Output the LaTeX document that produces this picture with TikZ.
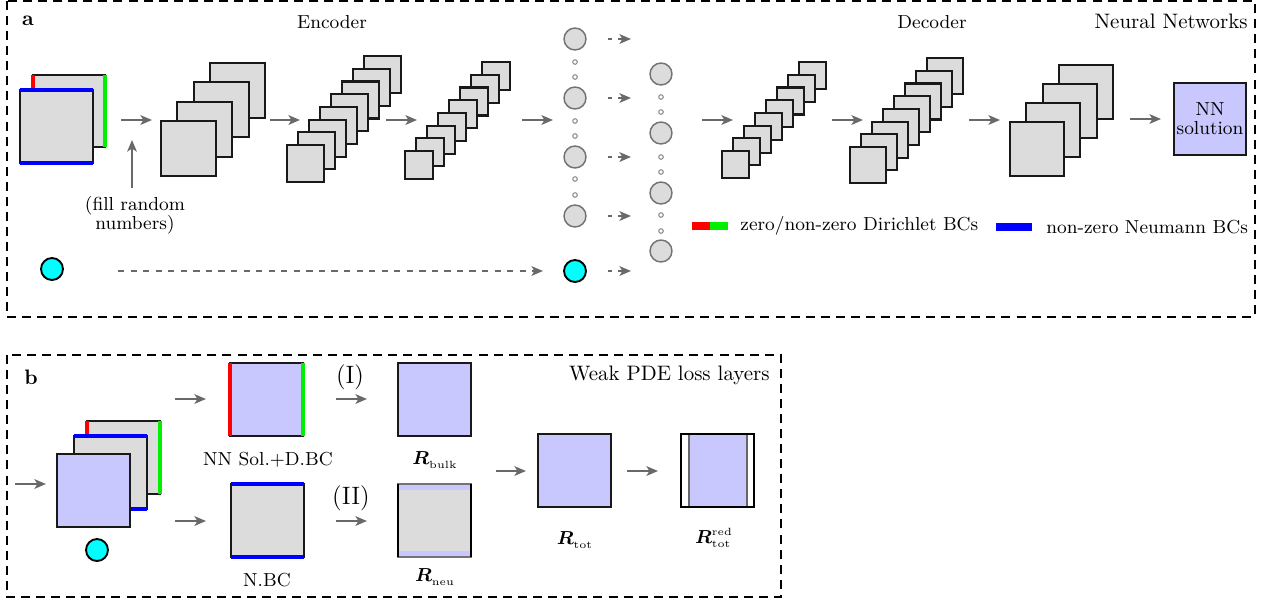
\documentclass[tikz,border=0pt]{standalone}
\usepackage{amsmath,bm}
\usetikzlibrary{arrows.meta,calc}
\definecolor{lav}{RGB}{200,200,255}
\definecolor{lgray}{RGB}{220,220,220}
\definecolor{agray}{RGB}{105,105,105}
\definecolor{bcR}{RGB}{255,0,0}
\definecolor{bcG}{RGB}{0,240,0}
\definecolor{bcB}{RGB}{0,0,255}
\definecolor{biascol}{RGB}{0,255,255}
\newcommand\PXU{0.478pt}
% stack of squares: #1 name, #2 front x, #3 front y, #4 size, #5 index list (back to front), #6 dx, #7 dy (up)
\newcommand\layerstack[7]{%
  \foreach \i in {#5}{%
    \node[sq, minimum size={#4*\PXU}] (#1-\i) at ({#2+\i*#6},{#3-\i*#7}) {};
  }}
% arrow between two named coordinates: #1 style, #2 name, #3 x1, #4 x2, #5 y
\newcommand\harrow[5][arr]{%
  \coordinate (#2-s) at (#3,#5); \coordinate (#2-e) at (#4,#5);
  \draw[#1] (#2-s) -- (#2-e);}
\newcommand\Rlab[2]{$\bm{R}_{\scriptscriptstyle\mathrm{#1}}^{\scriptscriptstyle\mathrm{#2}}$}
\begin{document}
\begin{tikzpicture}[x=0.478pt,y=-0.478pt,
  sq/.style={draw=black!90, fill=lgray, line width=1pt, outer sep=0pt, inner sep=0pt, anchor=north west},
  lsq/.style={sq, fill=lav},
  bcr/.style={draw=bcR, line width=2.1pt},
  bcg/.style={draw=bcG, line width=2.1pt},
  bcb/.style={draw=bcB, line width=2.3pt},
  arr/.style={draw=agray, line width=1pt, -{Stealth[length=5.5pt,width=4.6pt,inset=1.4pt]}},
  sarr/.style={arr, dash pattern=on 2pt off 3pt},
  larr/.style={arr, dash pattern=on 3pt off 3pt},
  neuron/.style={circle, draw=black!55, fill=lgray, line width=0.7pt, minimum size=10.5pt, inner sep=0pt},
  bias/.style={circle, draw=black, fill=biascol, line width=0.9pt, minimum size=10.5pt, inner sep=0pt},
  tdot/.style={circle, draw=black!50, fill=white, line width=0.45pt, minimum size=2.2pt, inner sep=0pt},
  frame/.style={draw=black, line width=0.8pt, dash pattern=on 4.3pt off 2.9pt},
  lbl/.style={inner sep=0pt},
  slbl/.style={inner sep=0pt, font=\small}
]
\useasboundingbox (0,0) rectangle (1261,600);

% ---------------- panel a ----------------
\draw[frame] (7,1) rectangle (1255,317);
\node[lbl, font=\bfseries] (la) at (28,21) {a};
\node[slbl] (enc) at (332,22) {Encoder};
\node[slbl] (dec) at (932,22) {Decoder};
\node[lbl, anchor=east] (nnt) at (1248,21) {Neural Networks};

% input
\node[sq, minimum size={72*\PXU}] (inA-b) at (33,75) {};
\draw[bcr] (inA-b.north west) -- (inA-b.south west);
\draw[bcg] (inA-b.north east) -- (inA-b.south east);
\node[sq, minimum size={73*\PXU}] (inA-f) at (20,90) {};
\draw[bcb] (inA-f.north west) -- (inA-f.north east);
\draw[bcb] (inA-f.south west) -- (inA-f.south east);

\harrow{a1}{121}{152}{120}
\coordinate (fr-s) at (132,188); \coordinate (fr-e) at (132,140);
\draw[arr] (fr-s) -- (fr-e);
\node[slbl, align=center] (fill) at (135,215) {(fill random\\[-2pt]numbers)};

% encoder stacks
\layerstack{s2}{161}{121}{55}{3,2,1,0}{16.3}{19.3}
\harrow{a2}{270}{300}{120}
\layerstack{s3}{287}{145}{37}{7,6,5,4,3,2,1,0}{11}{12.7}
\harrow{a3}{386}{417}{120}
\layerstack{s4}{405}{151}{28}{7,6,5,4,3,2,1,0}{11}{12.7}
\harrow{a4}{522}{553}{120}

% latent neurons
\foreach \y/\n in {39/1,98/2,157/3,216/4}{\node[neuron] (c1-\n) at (575,\y) {};}
\node[bias] (c1-b) at (575,271) {};
\foreach \y/\n in {62/1,77/2,121/3,136/4,179/5,195/6}{\node[tdot] (d1-\n) at (575,\y) {};}
\foreach \y/\n in {74/1,133/2,193/3,251/4}{\node[neuron] (c2-\n) at (661,\y) {};}
\foreach \y/\n in {97/1,112/2,157/3,172/4,215/5,231/6}{\node[tdot] (d2-\n) at (661,\y) {};}
\foreach \y/\n in {39/1,98/2,157/3,216/4,271/5}{%
  \coordinate (sa\n-s) at (608,\y); \coordinate (sa\n-e) at (631,\y);
  \draw[sarr] (sa\n-s) -- (sa\n-e);}

% bias input
\node[bias] (biasA) at (52,269) {};
\coordinate (da-s) at (118,271); \coordinate (da-e) at (543,271);
\draw[larr] (da-s) -- (da-e);

% decoder stacks
\harrow{a5}{702}{733}{120}
\layerstack{s5}{722}{151}{27}{7,6,5,4,3,2,1,0}{11}{12.7}
\harrow{a6}{832}{863}{120}
\layerstack{s6}{850}{147}{36}{7,6,5,4,3,2,1,0}{11}{12.7}
\harrow{a7}{969}{1000}{120}
\layerstack{s7}{1010}{122}{54}{3,2,1,0}{16.3}{19}
\harrow{a8}{1130}{1161}{119}
\node[sq, fill=lav, line width=1.4pt, minimum size={72*\PXU}] (nnsol) at (1174,83) {};
\node[slbl, align=center] (nnsolt) at (nnsol.center) {NN\\[-2pt]solution};

% legend
\node[fill=bcR, minimum width={18*\PXU}, minimum height={8*\PXU}, inner sep=0pt] (legR) at (701,226) {};
\node[fill=bcG, minimum width={18*\PXU}, minimum height={8*\PXU}, inner sep=0pt] (legG) at (719,226) {};
\node[slbl, anchor=west] (legDt) at (740,226) {zero/non-zero Dirichlet BCs};
\node[fill=bcB, minimum width={36*\PXU}, minimum height={8*\PXU}, inner sep=0pt] (legB) at (1014,227) {};
\node[slbl, anchor=west] (legNt) at (1046,227) {non-zero Neumann BCs};

% ---------------- panel b ----------------
\draw[frame] (7,355) rectangle (781,597);
\node[lbl, font=\bfseries] (lb) at (31,377) {b};
\node[lbl, anchor=east] (wpl) at (770,375) {Weak PDE loss layers};

\harrow{b0}{15}{46}{484}
\node[sq, minimum size={73*\PXU}] (inB-b) at (87,421) {};
\draw[bcr] (inB-b.north west) -- (inB-b.south west);
\draw[bcg] (inB-b.north east) -- (inB-b.south east);
\node[sq, minimum size={73*\PXU}] (inB-m) at (74,436) {};
\draw[bcb] (inB-m.north west) -- (inB-m.north east);
\draw[bcb] (inB-m.south west) -- (inB-m.south east);
\node[lsq, minimum size={73*\PXU}] (inB-f) at (57,454) {};
\node[bias] (biasB) at (97,550) {};

\harrow{b1}{175}{206}{399}
\harrow{b2}{175}{206}{521}

\node[lsq, minimum size={73*\PXU}] (nnd) at (230,363) {};
\draw[bcr] (nnd.north west) -- (nnd.south west);
\draw[bcg] (nnd.north east) -- (nnd.south east);
\node[slbl] (nndt) at (268,460) {NN Sol.+D.BC};

\node[sq, minimum size={73*\PXU}] (nbc) at (231,484) {};
\draw[bcb] (nbc.north west) -- (nbc.north east);
\draw[bcb] (nbc.south west) -- (nbc.south east);
\node[slbl] (nbct) at (267,580) {N.BC};

\node[lbl, font=\large] (t1) at (350,377) {(I)};
\node[lbl, font=\large] (t2) at (351,498) {(II)};
\harrow{b3}{336}{367}{399}
\harrow{b4}{336}{367}{521}

\node[lsq, minimum size={73*\PXU}] (rb) at (398,363) {};
\node[slbl] (rbt) at (435,460) {\Rlab{bulk}{}};

\node[sq, draw=none, minimum size={73*\PXU}] (rn) at (398,484) {};
\fill[lav] (rn.north west) rectangle ($(rn.north east)+(0,6)$);
\fill[lav] ($(rn.south west)+(0,-6)$) rectangle (rn.south east);
\draw[black!55, line width=0.5pt] (rn.north west) rectangle (rn.south east);
\draw[black, line width=1.1pt] (rn.north west) -- (rn.south west);
\draw[black, line width=1.1pt] (rn.north east) -- (rn.south east);
\node[slbl] (rnt) at (435,577) {\Rlab{neu}{}};

\harrow{b5}{496}{526}{471}
\node[lsq, minimum size={73*\PXU}] (rt) at (538,434) {};
\node[slbl] (rtt) at (575,540) {\Rlab{tot}{}};

\harrow{b6}{627}{658}{471}
\node[lsq, minimum size={73*\PXU}] (rr) at (681,434) {};
\filldraw[fill=white, draw=black!60, line width=0.5pt] (rr.north west) rectangle ($(rr.south west)+(8,0)$);
\filldraw[fill=white, draw=black!60, line width=0.5pt] ($(rr.north east)+(-7,0)$) rectangle (rr.south east);
\draw[black, line width=1pt] (rr.north west) rectangle (rr.south east);
\node[slbl] (rrt) at (714,538) {\Rlab{tot}{red}};
\end{tikzpicture}
\end{document}
